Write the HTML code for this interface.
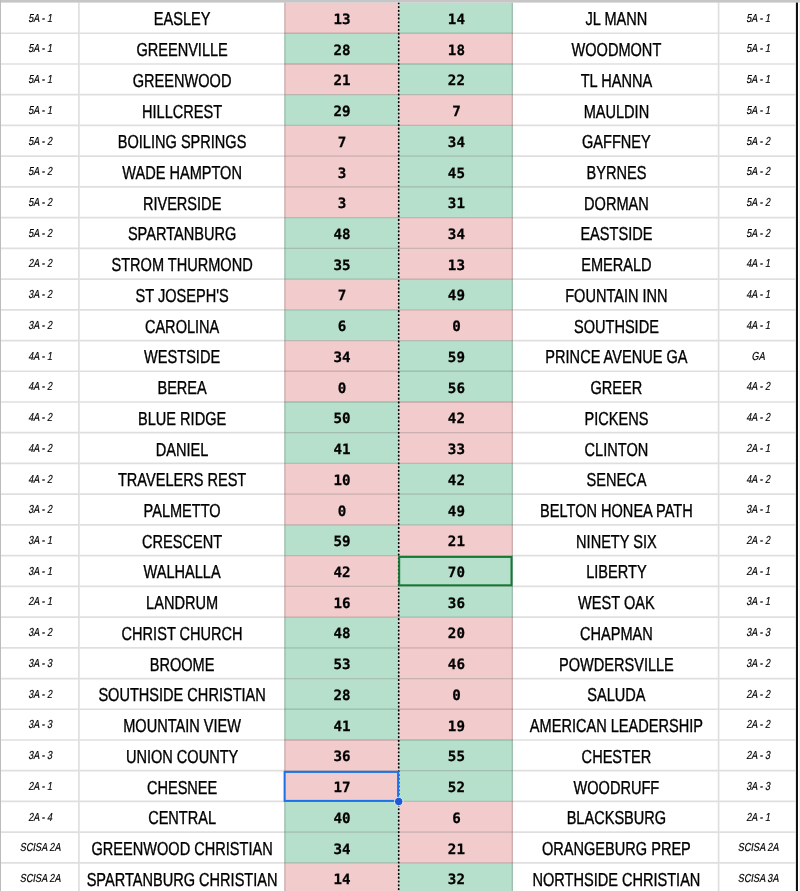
<!DOCTYPE html>
<html><head><meta charset="utf-8"><title>Scores</title>
<style>
html,body{margin:0;padding:0;background:#fff;overflow:hidden}
svg{display:block}
text{text-anchor:middle;fill:#000;text-rendering:geometricPrecision}
.n{font-family:"Liberation Sans",Arial,sans-serif;font-size:18.8px;stroke:#000;stroke-width:0.35px}
.l{font-family:"Liberation Sans",Arial,sans-serif;font-size:11.6px;stroke:#000;stroke-width:0.2px}
.d{font-family:"DejaVu Sans Mono","Liberation Mono",monospace;font-size:14.2px;font-weight:bold;stroke:#000;stroke-width:0.25px}
</style></head><body>
<svg width="800" height="891" viewBox="0 0 800 891">
<rect width="800" height="891" fill="#ffffff"/>
<rect x="284.30" y="2.60" width="114.40" height="30.65" fill="#f2cbcc"/>
<rect x="398.70" y="2.60" width="114.20" height="30.65" fill="#b7e0cc"/>
<rect x="284.30" y="33.25" width="114.40" height="30.73" fill="#b7e0cc"/>
<rect x="398.70" y="33.25" width="114.20" height="30.73" fill="#f2cbcc"/>
<rect x="284.30" y="63.98" width="114.40" height="30.73" fill="#f2cbcc"/>
<rect x="398.70" y="63.98" width="114.20" height="30.73" fill="#b7e0cc"/>
<rect x="284.30" y="94.71" width="114.40" height="30.73" fill="#b7e0cc"/>
<rect x="398.70" y="94.71" width="114.20" height="30.73" fill="#f2cbcc"/>
<rect x="284.30" y="125.43" width="114.40" height="30.73" fill="#f2cbcc"/>
<rect x="398.70" y="125.43" width="114.20" height="30.73" fill="#b7e0cc"/>
<rect x="284.30" y="156.16" width="114.40" height="30.73" fill="#f2cbcc"/>
<rect x="398.70" y="156.16" width="114.20" height="30.73" fill="#b7e0cc"/>
<rect x="284.30" y="186.89" width="114.40" height="30.73" fill="#f2cbcc"/>
<rect x="398.70" y="186.89" width="114.20" height="30.73" fill="#b7e0cc"/>
<rect x="284.30" y="217.62" width="114.40" height="30.73" fill="#b7e0cc"/>
<rect x="398.70" y="217.62" width="114.20" height="30.73" fill="#f2cbcc"/>
<rect x="284.30" y="248.35" width="114.40" height="30.73" fill="#b7e0cc"/>
<rect x="398.70" y="248.35" width="114.20" height="30.73" fill="#f2cbcc"/>
<rect x="284.30" y="279.07" width="114.40" height="30.73" fill="#f2cbcc"/>
<rect x="398.70" y="279.07" width="114.20" height="30.73" fill="#b7e0cc"/>
<rect x="284.30" y="309.80" width="114.40" height="30.73" fill="#b7e0cc"/>
<rect x="398.70" y="309.80" width="114.20" height="30.73" fill="#f2cbcc"/>
<rect x="284.30" y="340.53" width="114.40" height="30.73" fill="#f2cbcc"/>
<rect x="398.70" y="340.53" width="114.20" height="30.73" fill="#b7e0cc"/>
<rect x="284.30" y="371.26" width="114.40" height="30.73" fill="#f2cbcc"/>
<rect x="398.70" y="371.26" width="114.20" height="30.73" fill="#b7e0cc"/>
<rect x="284.30" y="401.99" width="114.40" height="30.73" fill="#b7e0cc"/>
<rect x="398.70" y="401.99" width="114.20" height="30.73" fill="#f2cbcc"/>
<rect x="284.30" y="432.71" width="114.40" height="30.73" fill="#b7e0cc"/>
<rect x="398.70" y="432.71" width="114.20" height="30.73" fill="#f2cbcc"/>
<rect x="284.30" y="463.44" width="114.40" height="30.73" fill="#f2cbcc"/>
<rect x="398.70" y="463.44" width="114.20" height="30.73" fill="#b7e0cc"/>
<rect x="284.30" y="494.17" width="114.40" height="30.73" fill="#f2cbcc"/>
<rect x="398.70" y="494.17" width="114.20" height="30.73" fill="#b7e0cc"/>
<rect x="284.30" y="524.90" width="114.40" height="30.73" fill="#b7e0cc"/>
<rect x="398.70" y="524.90" width="114.20" height="30.73" fill="#f2cbcc"/>
<rect x="284.30" y="555.63" width="114.40" height="30.73" fill="#f2cbcc"/>
<rect x="398.70" y="555.63" width="114.20" height="30.73" fill="#b7e0cc"/>
<rect x="284.30" y="586.35" width="114.40" height="30.73" fill="#f2cbcc"/>
<rect x="398.70" y="586.35" width="114.20" height="30.73" fill="#b7e0cc"/>
<rect x="284.30" y="617.08" width="114.40" height="30.73" fill="#b7e0cc"/>
<rect x="398.70" y="617.08" width="114.20" height="30.73" fill="#f2cbcc"/>
<rect x="284.30" y="647.81" width="114.40" height="30.73" fill="#b7e0cc"/>
<rect x="398.70" y="647.81" width="114.20" height="30.73" fill="#f2cbcc"/>
<rect x="284.30" y="678.54" width="114.40" height="30.73" fill="#b7e0cc"/>
<rect x="398.70" y="678.54" width="114.20" height="30.73" fill="#f2cbcc"/>
<rect x="284.30" y="709.27" width="114.40" height="30.73" fill="#b7e0cc"/>
<rect x="398.70" y="709.27" width="114.20" height="30.73" fill="#f2cbcc"/>
<rect x="284.30" y="739.99" width="114.40" height="30.73" fill="#f2cbcc"/>
<rect x="398.70" y="739.99" width="114.20" height="30.73" fill="#b7e0cc"/>
<rect x="284.30" y="770.72" width="114.40" height="30.73" fill="#f2cbcc"/>
<rect x="398.70" y="770.72" width="114.20" height="30.73" fill="#b7e0cc"/>
<rect x="284.30" y="801.45" width="114.40" height="30.73" fill="#b7e0cc"/>
<rect x="398.70" y="801.45" width="114.20" height="30.73" fill="#f2cbcc"/>
<rect x="284.30" y="832.18" width="114.40" height="30.73" fill="#b7e0cc"/>
<rect x="398.70" y="832.18" width="114.20" height="30.73" fill="#f2cbcc"/>
<rect x="284.30" y="862.91" width="114.40" height="30.73" fill="#f2cbcc"/>
<rect x="398.70" y="862.91" width="114.20" height="30.73" fill="#b7e0cc"/>
<g stroke="#dfdfdf" stroke-width="1.7"><line x1="1" y1="33.25" x2="284.30" y2="33.25"/><line x1="512.90" y1="33.25" x2="795.20" y2="33.25"/><line x1="1" y1="63.98" x2="284.30" y2="63.98"/><line x1="512.90" y1="63.98" x2="795.20" y2="63.98"/><line x1="1" y1="94.71" x2="284.30" y2="94.71"/><line x1="512.90" y1="94.71" x2="795.20" y2="94.71"/><line x1="1" y1="125.43" x2="284.30" y2="125.43"/><line x1="512.90" y1="125.43" x2="795.20" y2="125.43"/><line x1="1" y1="156.16" x2="284.30" y2="156.16"/><line x1="512.90" y1="156.16" x2="795.20" y2="156.16"/><line x1="1" y1="186.89" x2="284.30" y2="186.89"/><line x1="512.90" y1="186.89" x2="795.20" y2="186.89"/><line x1="1" y1="217.62" x2="284.30" y2="217.62"/><line x1="512.90" y1="217.62" x2="795.20" y2="217.62"/><line x1="1" y1="248.35" x2="284.30" y2="248.35"/><line x1="512.90" y1="248.35" x2="795.20" y2="248.35"/><line x1="1" y1="279.07" x2="284.30" y2="279.07"/><line x1="512.90" y1="279.07" x2="795.20" y2="279.07"/><line x1="1" y1="309.80" x2="284.30" y2="309.80"/><line x1="512.90" y1="309.80" x2="795.20" y2="309.80"/><line x1="1" y1="340.53" x2="284.30" y2="340.53"/><line x1="512.90" y1="340.53" x2="795.20" y2="340.53"/><line x1="1" y1="371.26" x2="284.30" y2="371.26"/><line x1="512.90" y1="371.26" x2="795.20" y2="371.26"/><line x1="1" y1="401.99" x2="284.30" y2="401.99"/><line x1="512.90" y1="401.99" x2="795.20" y2="401.99"/><line x1="1" y1="432.71" x2="284.30" y2="432.71"/><line x1="512.90" y1="432.71" x2="795.20" y2="432.71"/><line x1="1" y1="463.44" x2="284.30" y2="463.44"/><line x1="512.90" y1="463.44" x2="795.20" y2="463.44"/><line x1="1" y1="494.17" x2="284.30" y2="494.17"/><line x1="512.90" y1="494.17" x2="795.20" y2="494.17"/><line x1="1" y1="524.90" x2="284.30" y2="524.90"/><line x1="512.90" y1="524.90" x2="795.20" y2="524.90"/><line x1="1" y1="555.63" x2="284.30" y2="555.63"/><line x1="512.90" y1="555.63" x2="795.20" y2="555.63"/><line x1="1" y1="586.35" x2="284.30" y2="586.35"/><line x1="512.90" y1="586.35" x2="795.20" y2="586.35"/><line x1="1" y1="617.08" x2="284.30" y2="617.08"/><line x1="512.90" y1="617.08" x2="795.20" y2="617.08"/><line x1="1" y1="647.81" x2="284.30" y2="647.81"/><line x1="512.90" y1="647.81" x2="795.20" y2="647.81"/><line x1="1" y1="678.54" x2="284.30" y2="678.54"/><line x1="512.90" y1="678.54" x2="795.20" y2="678.54"/><line x1="1" y1="709.27" x2="284.30" y2="709.27"/><line x1="512.90" y1="709.27" x2="795.20" y2="709.27"/><line x1="1" y1="739.99" x2="284.30" y2="739.99"/><line x1="512.90" y1="739.99" x2="795.20" y2="739.99"/><line x1="1" y1="770.72" x2="284.30" y2="770.72"/><line x1="512.90" y1="770.72" x2="795.20" y2="770.72"/><line x1="1" y1="801.45" x2="284.30" y2="801.45"/><line x1="512.90" y1="801.45" x2="795.20" y2="801.45"/><line x1="1" y1="832.18" x2="284.30" y2="832.18"/><line x1="512.90" y1="832.18" x2="795.20" y2="832.18"/><line x1="1" y1="862.91" x2="284.30" y2="862.91"/><line x1="512.90" y1="862.91" x2="795.20" y2="862.91"/><line x1="78.90" y1="2.6" x2="78.90" y2="891"/><line x1="718.60" y1="2.6" x2="718.60" y2="891"/></g>
<g stroke="#000" stroke-opacity="0.17" stroke-width="1.3"><line x1="284.30" y1="33.25" x2="512.90" y2="33.25"/><line x1="284.30" y1="63.98" x2="512.90" y2="63.98"/><line x1="284.30" y1="94.71" x2="512.90" y2="94.71"/><line x1="284.30" y1="125.43" x2="512.90" y2="125.43"/><line x1="284.30" y1="156.16" x2="512.90" y2="156.16"/><line x1="284.30" y1="186.89" x2="512.90" y2="186.89"/><line x1="284.30" y1="217.62" x2="512.90" y2="217.62"/><line x1="284.30" y1="248.35" x2="512.90" y2="248.35"/><line x1="284.30" y1="279.07" x2="512.90" y2="279.07"/><line x1="284.30" y1="309.80" x2="512.90" y2="309.80"/><line x1="284.30" y1="340.53" x2="512.90" y2="340.53"/><line x1="284.30" y1="371.26" x2="512.90" y2="371.26"/><line x1="284.30" y1="401.99" x2="512.90" y2="401.99"/><line x1="284.30" y1="432.71" x2="512.90" y2="432.71"/><line x1="284.30" y1="463.44" x2="512.90" y2="463.44"/><line x1="284.30" y1="494.17" x2="512.90" y2="494.17"/><line x1="284.30" y1="524.90" x2="512.90" y2="524.90"/><line x1="284.30" y1="555.63" x2="512.90" y2="555.63"/><line x1="284.30" y1="586.35" x2="512.90" y2="586.35"/><line x1="284.30" y1="617.08" x2="512.90" y2="617.08"/><line x1="284.30" y1="647.81" x2="512.90" y2="647.81"/><line x1="284.30" y1="678.54" x2="512.90" y2="678.54"/><line x1="284.30" y1="709.27" x2="512.90" y2="709.27"/><line x1="284.30" y1="739.99" x2="512.90" y2="739.99"/><line x1="284.30" y1="770.72" x2="512.90" y2="770.72"/><line x1="284.30" y1="801.45" x2="512.90" y2="801.45"/><line x1="284.30" y1="832.18" x2="512.90" y2="832.18"/><line x1="284.30" y1="862.91" x2="512.90" y2="862.91"/><line x1="284.90" y1="2.6" x2="284.90" y2="891"/><line x1="512.30" y1="2.6" x2="512.30" y2="891"/></g>
<line x1="398.70" y1="0" x2="398.70" y2="891" stroke="#000" stroke-width="1.75" stroke-linecap="round" stroke-dasharray="0.45 3.352" stroke-dashoffset="0.777"/>
<rect x="0" y="0" width="800" height="2.6" fill="#c6c6c6"/>
<rect x="0" y="0" width="1" height="891" fill="#bcbcbc"/>
<rect x="795.9" y="2.6" width="2.1" height="891" fill="#111"/>
<rect x="799.2" y="2.6" width="0.8" height="891" fill="#eeeeee"/>
<text class="l" transform="translate(40.20 21.59) scale(0.79 1) skewX(-12)">5A - 1</text>
<text class="n" transform="translate(182.10 25.39) scale(0.775 1)">EASLEY</text>
<text class="d" transform="translate(342.10 23.89) scale(1.0 1)">13</text>
<text class="d" transform="translate(456.40 23.89) scale(1.0 1)">14</text>
<text class="n" transform="translate(616.40 25.39) scale(0.775 1)">JL MANN</text>
<text class="l" transform="translate(758.20 21.59) scale(0.79 1) skewX(-12)">5A - 1</text>
<text class="l" transform="translate(40.20 52.31) scale(0.79 1) skewX(-12)">5A - 1</text>
<text class="n" transform="translate(182.10 56.11) scale(0.775 1)">GREENVILLE</text>
<text class="d" transform="translate(342.10 54.61) scale(1.0 1)">28</text>
<text class="d" transform="translate(456.40 54.61) scale(1.0 1)">18</text>
<text class="n" transform="translate(616.40 56.11) scale(0.775 1)">WOODMONT</text>
<text class="l" transform="translate(758.20 52.31) scale(0.79 1) skewX(-12)">5A - 1</text>
<text class="l" transform="translate(40.20 83.04) scale(0.79 1) skewX(-12)">5A - 1</text>
<text class="n" transform="translate(182.10 86.84) scale(0.775 1)">GREENWOOD</text>
<text class="d" transform="translate(342.10 85.34) scale(1.0 1)">21</text>
<text class="d" transform="translate(456.40 85.34) scale(1.0 1)">22</text>
<text class="n" transform="translate(616.40 86.84) scale(0.775 1)">TL HANNA</text>
<text class="l" transform="translate(758.20 83.04) scale(0.79 1) skewX(-12)">5A - 1</text>
<text class="l" transform="translate(40.20 113.77) scale(0.79 1) skewX(-12)">5A - 1</text>
<text class="n" transform="translate(182.10 117.57) scale(0.775 1)">HILLCREST</text>
<text class="d" transform="translate(342.10 116.07) scale(1.0 1)">29</text>
<text class="d" transform="translate(456.40 116.07) scale(1.0 1)">7</text>
<text class="n" transform="translate(616.40 117.57) scale(0.775 1)">MAULDIN</text>
<text class="l" transform="translate(758.20 113.77) scale(0.79 1) skewX(-12)">5A - 1</text>
<text class="l" transform="translate(40.20 144.50) scale(0.79 1) skewX(-12)">5A - 2</text>
<text class="n" transform="translate(182.10 148.30) scale(0.775 1)">BOILING SPRINGS</text>
<text class="d" transform="translate(342.10 146.80) scale(1.0 1)">7</text>
<text class="d" transform="translate(456.40 146.80) scale(1.0 1)">34</text>
<text class="n" transform="translate(616.40 148.30) scale(0.775 1)">GAFFNEY</text>
<text class="l" transform="translate(758.20 144.50) scale(0.79 1) skewX(-12)">5A - 2</text>
<text class="l" transform="translate(40.20 175.23) scale(0.79 1) skewX(-12)">5A - 2</text>
<text class="n" transform="translate(182.10 179.03) scale(0.775 1)">WADE HAMPTON</text>
<text class="d" transform="translate(342.10 177.53) scale(1.0 1)">3</text>
<text class="d" transform="translate(456.40 177.53) scale(1.0 1)">45</text>
<text class="n" transform="translate(616.40 179.03) scale(0.775 1)">BYRNES</text>
<text class="l" transform="translate(758.20 175.23) scale(0.79 1) skewX(-12)">5A - 2</text>
<text class="l" transform="translate(40.20 205.95) scale(0.79 1) skewX(-12)">5A - 2</text>
<text class="n" transform="translate(182.10 209.75) scale(0.775 1)">RIVERSIDE</text>
<text class="d" transform="translate(342.10 208.25) scale(1.0 1)">3</text>
<text class="d" transform="translate(456.40 208.25) scale(1.0 1)">31</text>
<text class="n" transform="translate(616.40 209.75) scale(0.775 1)">DORMAN</text>
<text class="l" transform="translate(758.20 205.95) scale(0.79 1) skewX(-12)">5A - 2</text>
<text class="l" transform="translate(40.20 236.68) scale(0.79 1) skewX(-12)">5A - 2</text>
<text class="n" transform="translate(182.10 240.48) scale(0.775 1)">SPARTANBURG</text>
<text class="d" transform="translate(342.10 238.98) scale(1.0 1)">48</text>
<text class="d" transform="translate(456.40 238.98) scale(1.0 1)">34</text>
<text class="n" transform="translate(616.40 240.48) scale(0.775 1)">EASTSIDE</text>
<text class="l" transform="translate(758.20 236.68) scale(0.79 1) skewX(-12)">5A - 2</text>
<text class="l" transform="translate(40.20 267.41) scale(0.79 1) skewX(-12)">2A - 2</text>
<text class="n" transform="translate(182.10 271.21) scale(0.775 1)">STROM THURMOND</text>
<text class="d" transform="translate(342.10 269.71) scale(1.0 1)">35</text>
<text class="d" transform="translate(456.40 269.71) scale(1.0 1)">13</text>
<text class="n" transform="translate(616.40 271.21) scale(0.775 1)">EMERALD</text>
<text class="l" transform="translate(758.20 267.41) scale(0.79 1) skewX(-12)">4A - 1</text>
<text class="l" transform="translate(40.20 298.14) scale(0.79 1) skewX(-12)">3A - 2</text>
<text class="n" transform="translate(182.10 301.94) scale(0.775 1)">ST JOSEPH&#39;S</text>
<text class="d" transform="translate(342.10 300.44) scale(1.0 1)">7</text>
<text class="d" transform="translate(456.40 300.44) scale(1.0 1)">49</text>
<text class="n" transform="translate(616.40 301.94) scale(0.775 1)">FOUNTAIN INN</text>
<text class="l" transform="translate(758.20 298.14) scale(0.79 1) skewX(-12)">4A - 1</text>
<text class="l" transform="translate(40.20 328.87) scale(0.79 1) skewX(-12)">3A - 2</text>
<text class="n" transform="translate(182.10 332.67) scale(0.775 1)">CAROLINA</text>
<text class="d" transform="translate(342.10 331.17) scale(1.0 1)">6</text>
<text class="d" transform="translate(456.40 331.17) scale(1.0 1)">0</text>
<text class="n" transform="translate(616.40 332.67) scale(0.775 1)">SOUTHSIDE</text>
<text class="l" transform="translate(758.20 328.87) scale(0.79 1) skewX(-12)">4A - 1</text>
<text class="l" transform="translate(40.20 359.59) scale(0.79 1) skewX(-12)">4A - 1</text>
<text class="n" transform="translate(182.10 363.39) scale(0.775 1)">WESTSIDE</text>
<text class="d" transform="translate(342.10 361.89) scale(1.0 1)">34</text>
<text class="d" transform="translate(456.40 361.89) scale(1.0 1)">59</text>
<text class="n" transform="translate(616.40 363.39) scale(0.775 1)">PRINCE AVENUE GA</text>
<text class="l" transform="translate(758.20 359.59) scale(0.79 1) skewX(-12)">GA</text>
<text class="l" transform="translate(40.20 390.32) scale(0.79 1) skewX(-12)">4A - 2</text>
<text class="n" transform="translate(182.10 394.12) scale(0.775 1)">BEREA</text>
<text class="d" transform="translate(342.10 392.62) scale(1.0 1)">0</text>
<text class="d" transform="translate(456.40 392.62) scale(1.0 1)">56</text>
<text class="n" transform="translate(616.40 394.12) scale(0.775 1)">GREER</text>
<text class="l" transform="translate(758.20 390.32) scale(0.79 1) skewX(-12)">4A - 2</text>
<text class="l" transform="translate(40.20 421.05) scale(0.79 1) skewX(-12)">4A - 2</text>
<text class="n" transform="translate(182.10 424.85) scale(0.775 1)">BLUE RIDGE</text>
<text class="d" transform="translate(342.10 423.35) scale(1.0 1)">50</text>
<text class="d" transform="translate(456.40 423.35) scale(1.0 1)">42</text>
<text class="n" transform="translate(616.40 424.85) scale(0.775 1)">PICKENS</text>
<text class="l" transform="translate(758.20 421.05) scale(0.79 1) skewX(-12)">4A - 2</text>
<text class="l" transform="translate(40.20 451.78) scale(0.79 1) skewX(-12)">4A - 2</text>
<text class="n" transform="translate(182.10 455.58) scale(0.775 1)">DANIEL</text>
<text class="d" transform="translate(342.10 454.08) scale(1.0 1)">41</text>
<text class="d" transform="translate(456.40 454.08) scale(1.0 1)">33</text>
<text class="n" transform="translate(616.40 455.58) scale(0.775 1)">CLINTON</text>
<text class="l" transform="translate(758.20 451.78) scale(0.79 1) skewX(-12)">2A - 1</text>
<text class="l" transform="translate(40.20 482.51) scale(0.79 1) skewX(-12)">4A - 2</text>
<text class="n" transform="translate(182.10 486.31) scale(0.775 1)">TRAVELERS REST</text>
<text class="d" transform="translate(342.10 484.81) scale(1.0 1)">10</text>
<text class="d" transform="translate(456.40 484.81) scale(1.0 1)">42</text>
<text class="n" transform="translate(616.40 486.31) scale(0.775 1)">SENECA</text>
<text class="l" transform="translate(758.20 482.51) scale(0.79 1) skewX(-12)">4A - 2</text>
<text class="l" transform="translate(40.20 513.23) scale(0.79 1) skewX(-12)">3A - 2</text>
<text class="n" transform="translate(182.10 517.03) scale(0.775 1)">PALMETTO</text>
<text class="d" transform="translate(342.10 515.53) scale(1.0 1)">0</text>
<text class="d" transform="translate(456.40 515.53) scale(1.0 1)">49</text>
<text class="n" transform="translate(616.40 517.03) scale(0.775 1)">BELTON HONEA PATH</text>
<text class="l" transform="translate(758.20 513.23) scale(0.79 1) skewX(-12)">3A - 1</text>
<text class="l" transform="translate(40.20 543.96) scale(0.79 1) skewX(-12)">3A - 1</text>
<text class="n" transform="translate(182.10 547.76) scale(0.775 1)">CRESCENT</text>
<text class="d" transform="translate(342.10 546.26) scale(1.0 1)">59</text>
<text class="d" transform="translate(456.40 546.26) scale(1.0 1)">21</text>
<text class="n" transform="translate(616.40 547.76) scale(0.775 1)">NINETY SIX</text>
<text class="l" transform="translate(758.20 543.96) scale(0.79 1) skewX(-12)">2A - 2</text>
<text class="l" transform="translate(40.20 574.69) scale(0.79 1) skewX(-12)">3A - 1</text>
<text class="n" transform="translate(182.10 578.49) scale(0.775 1)">WALHALLA</text>
<text class="d" transform="translate(342.10 576.99) scale(1.0 1)">42</text>
<text class="d" transform="translate(456.40 576.99) scale(1.0 1)">70</text>
<text class="n" transform="translate(616.40 578.49) scale(0.775 1)">LIBERTY</text>
<text class="l" transform="translate(758.20 574.69) scale(0.79 1) skewX(-12)">2A - 1</text>
<text class="l" transform="translate(40.20 605.42) scale(0.79 1) skewX(-12)">2A - 1</text>
<text class="n" transform="translate(182.10 609.22) scale(0.775 1)">LANDRUM</text>
<text class="d" transform="translate(342.10 607.72) scale(1.0 1)">16</text>
<text class="d" transform="translate(456.40 607.72) scale(1.0 1)">36</text>
<text class="n" transform="translate(616.40 609.22) scale(0.775 1)">WEST OAK</text>
<text class="l" transform="translate(758.20 605.42) scale(0.79 1) skewX(-12)">3A - 1</text>
<text class="l" transform="translate(40.20 636.15) scale(0.79 1) skewX(-12)">3A - 2</text>
<text class="n" transform="translate(182.10 639.95) scale(0.775 1)">CHRIST CHURCH</text>
<text class="d" transform="translate(342.10 638.45) scale(1.0 1)">48</text>
<text class="d" transform="translate(456.40 638.45) scale(1.0 1)">20</text>
<text class="n" transform="translate(616.40 639.95) scale(0.775 1)">CHAPMAN</text>
<text class="l" transform="translate(758.20 636.15) scale(0.79 1) skewX(-12)">3A - 3</text>
<text class="l" transform="translate(40.20 666.87) scale(0.79 1) skewX(-12)">3A - 3</text>
<text class="n" transform="translate(182.10 670.67) scale(0.775 1)">BROOME</text>
<text class="d" transform="translate(342.10 669.17) scale(1.0 1)">53</text>
<text class="d" transform="translate(456.40 669.17) scale(1.0 1)">46</text>
<text class="n" transform="translate(616.40 670.67) scale(0.775 1)">POWDERSVILLE</text>
<text class="l" transform="translate(758.20 666.87) scale(0.79 1) skewX(-12)">3A - 2</text>
<text class="l" transform="translate(40.20 697.60) scale(0.79 1) skewX(-12)">3A - 2</text>
<text class="n" transform="translate(182.10 701.40) scale(0.775 1)">SOUTHSIDE CHRISTIAN</text>
<text class="d" transform="translate(342.10 699.90) scale(1.0 1)">28</text>
<text class="d" transform="translate(456.40 699.90) scale(1.0 1)">0</text>
<text class="n" transform="translate(616.40 701.40) scale(0.775 1)">SALUDA</text>
<text class="l" transform="translate(758.20 697.60) scale(0.79 1) skewX(-12)">2A - 2</text>
<text class="l" transform="translate(40.20 728.33) scale(0.79 1) skewX(-12)">3A - 3</text>
<text class="n" transform="translate(182.10 732.13) scale(0.775 1)">MOUNTAIN VIEW</text>
<text class="d" transform="translate(342.10 730.63) scale(1.0 1)">41</text>
<text class="d" transform="translate(456.40 730.63) scale(1.0 1)">19</text>
<text class="n" transform="translate(616.40 732.13) scale(0.775 1)">AMERICAN LEADERSHIP</text>
<text class="l" transform="translate(758.20 728.33) scale(0.79 1) skewX(-12)">2A - 2</text>
<text class="l" transform="translate(40.20 759.06) scale(0.79 1) skewX(-12)">3A - 3</text>
<text class="n" transform="translate(182.10 762.86) scale(0.775 1)">UNION COUNTY</text>
<text class="d" transform="translate(342.10 761.36) scale(1.0 1)">36</text>
<text class="d" transform="translate(456.40 761.36) scale(1.0 1)">55</text>
<text class="n" transform="translate(616.40 762.86) scale(0.775 1)">CHESTER</text>
<text class="l" transform="translate(758.20 759.06) scale(0.79 1) skewX(-12)">2A - 3</text>
<text class="l" transform="translate(40.20 789.79) scale(0.79 1) skewX(-12)">2A - 1</text>
<text class="n" transform="translate(182.10 793.59) scale(0.775 1)">CHESNEE</text>
<text class="d" transform="translate(342.10 792.09) scale(1.0 1)">17</text>
<text class="d" transform="translate(456.40 792.09) scale(1.0 1)">52</text>
<text class="n" transform="translate(616.40 793.59) scale(0.775 1)">WOODRUFF</text>
<text class="l" transform="translate(758.20 789.79) scale(0.79 1) skewX(-12)">3A - 3</text>
<text class="l" transform="translate(40.20 820.51) scale(0.79 1) skewX(-12)">2A - 4</text>
<text class="n" transform="translate(182.10 824.31) scale(0.775 1)">CENTRAL</text>
<text class="d" transform="translate(342.10 822.81) scale(1.0 1)">40</text>
<text class="d" transform="translate(456.40 822.81) scale(1.0 1)">6</text>
<text class="n" transform="translate(616.40 824.31) scale(0.775 1)">BLACKSBURG</text>
<text class="l" transform="translate(758.20 820.51) scale(0.79 1) skewX(-12)">2A - 1</text>
<text class="l" transform="translate(40.20 851.24) scale(0.79 1) skewX(-12)">SCISA 2A</text>
<text class="n" transform="translate(182.10 855.04) scale(0.775 1)">GREENWOOD CHRISTIAN</text>
<text class="d" transform="translate(342.10 853.54) scale(1.0 1)">34</text>
<text class="d" transform="translate(456.40 853.54) scale(1.0 1)">21</text>
<text class="n" transform="translate(616.40 855.04) scale(0.775 1)">ORANGEBURG PREP</text>
<text class="l" transform="translate(758.20 851.24) scale(0.79 1) skewX(-12)">SCISA 2A</text>
<text class="l" transform="translate(40.20 881.97) scale(0.79 1) skewX(-12)">SCISA 2A</text>
<text class="n" transform="translate(182.10 885.77) scale(0.775 1)">SPARTANBURG CHRISTIAN</text>
<text class="d" transform="translate(342.10 884.27) scale(1.0 1)">14</text>
<text class="d" transform="translate(456.40 884.27) scale(1.0 1)">32</text>
<text class="n" transform="translate(616.40 885.77) scale(0.775 1)">NORTHSIDE CHRISTIAN</text>
<text class="l" transform="translate(758.20 881.97) scale(0.79 1) skewX(-12)">SCISA 3A</text>
<rect x="284.6" y="771.9" width="113.50" height="29.00" fill="none" stroke="#1a73e8" stroke-width="2"/>
<circle cx="398.70" cy="801.50" r="4.2" fill="#1a5ad6" stroke="#fff" stroke-width="0.8"/>
<rect x="399.2" y="556.9" width="112.30" height="28.40" fill="none" stroke="#177836" stroke-width="2"/>
</svg>
</body></html>
